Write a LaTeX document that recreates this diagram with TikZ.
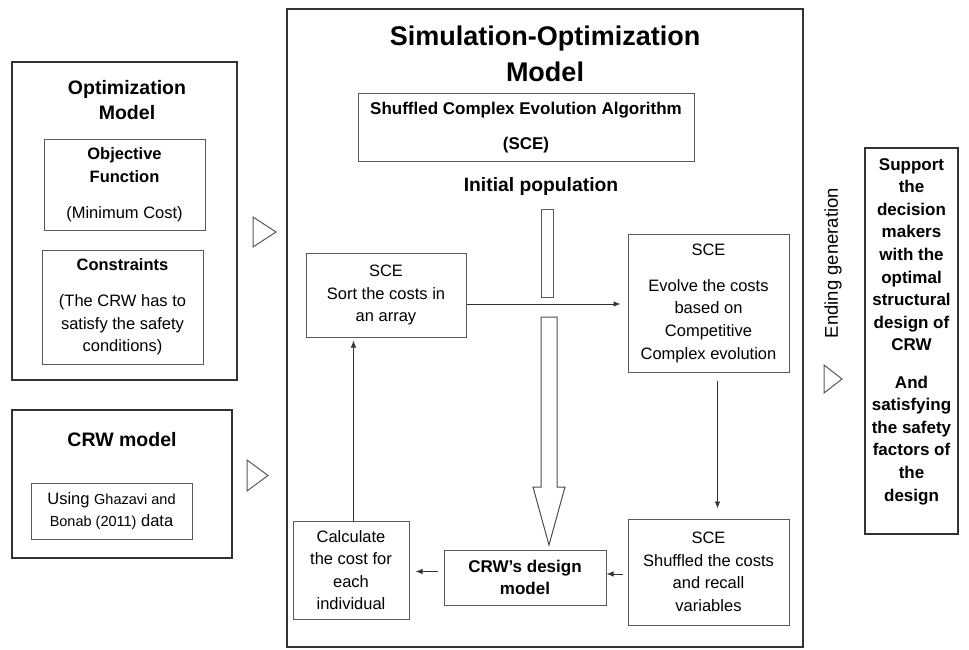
\documentclass[tikz,border=0pt]{standalone}
\usepackage{fontspec}
\setmainfont{Liberation Sans}
\usetikzlibrary{arrows.meta}
\begin{document}
\begin{tikzpicture}[x=1pt,y=-1pt,
  outer/.style={draw=black!80, line width=2.6pt, inner sep=0pt},
  box/.style={draw=black!65, line width=1pt, align=center, inner sep=0pt, font=\fontsize{16.5}{22.6}\selectfont},
  txt/.style={align=center, inner sep=0pt, font=\fontsize{16.5}{22.6}\selectfont},
  arr/.style={draw=black!80, line width=0.9pt, -{Latex[length=7pt,width=5.5pt]}},
  tri/.style={draw=black!65, line width=1pt, line join=miter},
]
\useasboundingbox (0,0) rectangle (969,650);

% ---------- left: optimization model ----------
\node[outer, minimum width=225pt, minimum height=318pt] (opt) at (124.5,221) {};
\node[txt, font=\fontsize{19.5}{25}\selectfont\bfseries] (optt) at (127,100.5) {Optimization\\Model};
\node[box, minimum width=161pt, minimum height=90pt] (obj) at (124.5,185)
  {\textbf{Objective}\\\textbf{Function}\\[13.5pt](Minimum Cost)};
\node[box, minimum width=161pt, minimum height=114pt] (con) at (122.5,307)
  {\textbf{Constraints}\\[13.5pt](The CRW has to\\satisfy the safety\\conditions)};
\draw[tri] (253,217) -- (276,232) -- (253,247) -- cycle;

% ---------- left: CRW model ----------
\node[outer, minimum width=220pt, minimum height=148pt] (crw) at (122,484) {};
\node[txt, font=\fontsize{19.5}{25}\selectfont\bfseries] (crwt) at (122,440) {CRW model};
\node[box, minimum width=161pt, minimum height=56pt] (data) at (111.5,511)
  {Using {\fontsize{14.5}{17}\selectfont Ghazavi and}\\{\fontsize{14.5}{17}\selectfont Bonab (2011)} data};
\draw[tri] (247,460) -- (268,475.5) -- (247,491) -- cycle;

% ---------- centre: simulation-optimization model ----------
\node[outer, minimum width=516pt, minimum height=638pt] (sim) at (545,328) {};
\node[txt, font=\fontsize{27}{36}\selectfont\bfseries] (simt) at (545,54) {Simulation-Optimization\\Model};
\node[box, minimum width=336pt, minimum height=67pt, font=\fontsize{17}{35}\selectfont\bfseries] (sce) at (526,127.5)
  {Shuffled Complex Evolution Algorithm\\(SCE)};
\node[txt, font=\fontsize{19.3}{23}\selectfont\bfseries] (init) at (541,187) {Initial population};
\draw[draw=black!65, line width=1pt] (541,209) rectangle (553,297);
\draw[draw=black!70, line width=1pt, line join=miter] (541,317) -- (557,317) -- (557,487) -- (565,487)
  -- (549,545) -- (533,487) -- (541,487) -- cycle;

\node[box, minimum width=160pt, minimum height=84pt] (sort) at (386,295)
  {SCE\\Sort the costs in\\an array};
\node[box, minimum width=161pt, minimum height=138pt] (evolve) at (708.5,303)
  {SCE\\[13.5pt]Evolve the costs\\based on\\Competitive\\Complex evolution};
\node[box, minimum width=161pt, minimum height=106pt] (shuf) at (708.5,572)
  {SCE\\Shuffled the costs\\and recall\\variables};
\node[box, minimum width=162pt, minimum height=55pt, font=\fontsize{17}{22.6}\selectfont\bfseries] (design) at (525,577.5)
  {CRW's design\\model};
\node[box, minimum width=116pt, minimum height=98pt] (calc) at (351,570)
  {Calculate\\the cost for\\each\\individual};

\draw[arr, shorten >=7pt] ([yshift=-9pt]sort.east) -- ([yshift=-9pt]sort.east -| evolve.west);
\draw[arr, shorten <=8pt, shorten >=10pt] ([xshift=9pt]evolve.south) -- ([xshift=9pt]evolve.south |- shuf.north);
\draw[arr, shorten <=5pt] ([yshift=-2pt]shuf.west) -- ([yshift=-2pt]shuf.west -| design.east);
\draw[arr, shorten <=6pt, shorten >=6pt] ([yshift=6pt]design.west) -- ([yshift=6pt]design.west -| calc.east);
\draw[arr, shorten >=3pt] ([xshift=2.5pt]calc.north) -- ([xshift=2.5pt]calc.north |- sort.south);

% ---------- right ----------
\node[txt, rotate=90, font=\fontsize{18.5}{22}\selectfont] (endgen) at (833,263) {Ending generation};
\draw[tri] (824,365) -- (842,379) -- (824,393) -- cycle;
\node[outer, minimum width=93pt, minimum height=386pt] (final) at (911.5,341) {};
\node[txt, font=\fontsize{17}{22.6}\selectfont\bfseries] (finalt) at (911.5,331.5)
  {Support\\the\\decision\\makers\\with the\\optimal\\structural\\design of\\CRW\\[14.5pt]And\\satisfying\\the safety\\factors of\\the\\design};
\end{tikzpicture}
\end{document}
